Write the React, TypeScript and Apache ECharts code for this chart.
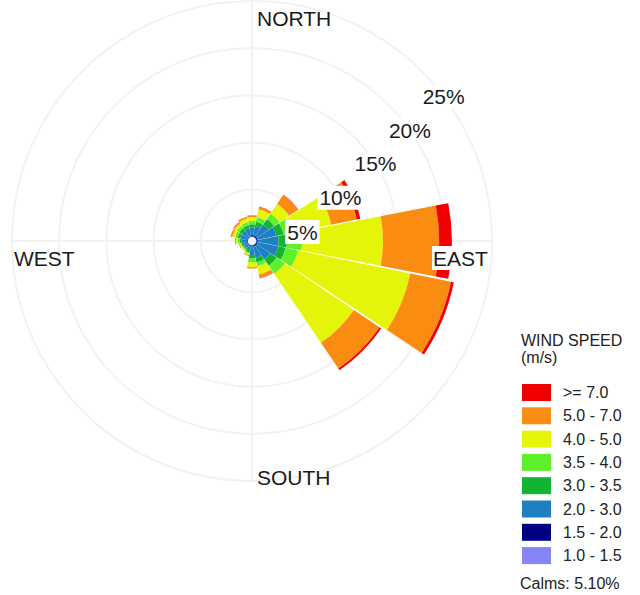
import React, { useEffect, useRef } from "react";
import * as echarts from "echarts";

const directions = ["N", "NNE", "NE", "ENE", "E", "ESE", "SE", "SSE", "S", "SSW", "SW", "WSW", "W", "WNW", "NW", "NNW"];

const speedBins = ["1.0 - 1.5", "1.5 - 2.0", "2.0 - 3.0", "3.0 - 3.5", "3.5 - 4.0", "4.0 - 5.0", "5.0 - 7.0", ">= 7.0"];
const binColors = ["#8585f5", "#000080", "#1e7fc2", "#12b432", "#5ef02a", "#e4f50a", "#fa8c12", "#f20000"];

// frequency (%) per direction, one array per speed bin
const bin10to15 = [0.05, 0.05, 0.05, 0.05, 0.05, 0.05, 0.05, 0.05, 0.05, 0.03, 0.03, 0.03, 0.03, 0.03, 0.03, 0.03];
const bin15to20 = [0.15, 0.15, 0.15, 0.15, 0.15, 0.15, 0.15, 0.15, 0.1, 0.07, 0.07, 0.07, 0.07, 0.07, 0.07, 0.07];
const bin20to30 = [0.8, 1.0, 1.5, 2.0, 2.2, 2.2, 1.7, 1.2, 0.9, 0.5, 0.4, 0.45, 0.6, 0.75, 0.8, 0.85];
const bin30to35 = [0.35, 0.45, 0.7, 0.8, 0.9, 0.8, 0.85, 0.5, 0.4, 0.2, 0.15, 0.15, 0.2, 0.28, 0.3, 0.32];
const bin35to40 = [0.35, 0.5, 0.7, 0.9, 1.6, 1.35, 1.05, 0.4, 0.4, 0.15, 0.1, 0.1, 0.2, 0.28, 0.3, 0.33];
const bin40to50 = [0.42, 0.85, 1.25, 4.25, 8.55, 12.15, 8.8, 0.9, 0.5, 0.15, 0.1, 0.12, 0.2, 0.3, 0.3, 0.4];
const bin50to70 = [0.16, 0.28, 1.1, 2.75, 5.95, 4.4, 3.3, 0.4, 0.13, 0.1, 0.05, 0.08, 0.1, 0.17, 0.18, 0.18];
const bin70plus = [0.02, 0.02, 0.05, 0.4, 1.35, 0.3, 0.2, 0.03, 0.02, 0, 0, 0, 0, 0.02, 0.02, 0.02];

const binValues = [bin10to15, bin15to20, bin20to30, bin30to35, bin35to40, bin40to50, bin50to70, bin70plus];

const ringTicks = [5, 10, 15, 20, 25];
const ringLabelAngles = [10, 26, 32, 35, 37];
const calms = "Calms: 5.10%";

const CX = 252;
const CY = 241;
const R0 = 4;
const R1 = 240;
const RMAX = 25;

export default function App() {
  const ref = useRef<HTMLDivElement>(null);
  useEffect(() => {
    if (!ref.current) return;
    const chart = echarts.init(ref.current, null, { renderer: "svg" });
    const font = "Liberation Sans, Arial, Helvetica, sans-serif";
    const series = speedBins.map((name, i) => ({
      type: "bar",
      name,
      coordinateSystem: "polar",
      stack: "wind",
      data: binValues[i],
      barCategoryGap: "3%",
      itemStyle: { color: binColors[i] },
      emphasis: { disabled: true },
    }));
    const pxPerUnit = (R1 - R0) / RMAX;
    const ringLabels = ringTicks.map((t, i) => {
      const r = R0 + t * pxPerUnit;
      const a = (ringLabelAngles[i] * Math.PI) / 180;
      return {
        type: "text",
        z: 100,
        x: CX + r * Math.cos(a),
        y: CY - r * Math.sin(a),
        style: {
          text: t + "%",
          font: "21px " + font,
          fill: "#1a1a1a",
          align: "center",
          verticalAlign: "middle",
          backgroundColor: "#ffffff",
          padding: [2, 2, 1, 2],
        },
      };
    });
    const dirText = (text: string, x: number, y: number, bg: boolean) => ({
      type: "text",
      z: 100,
      x,
      y,
      style: {
        text,
        font: "21px " + font,
        fill: "#1a1a1a",
        align: "left",
        verticalAlign: "middle",
        backgroundColor: bg ? "#ffffff" : undefined,
        padding: bg ? [2, 1, 1, 1] : 0,
      },
    });
    chart.setOption({
      animation: false,
      backgroundColor: "#ffffff",
      polar: { center: [CX, CY], radius: [R0, R1] },
      angleAxis: {
        type: "category",
        data: directions,
        startAngle: 90 + 360 / directions.length / 2,
        clockwise: true,
        axisLine: { show: false },
        axisTick: { show: false },
        axisLabel: { show: false },
        splitLine: { show: false },
      },
      radiusAxis: {
        type: "value",
        min: 0,
        max: RMAX,
        interval: 5,
        axisLine: { show: false },
        axisTick: { show: false },
        axisLabel: { show: false },
        splitLine: { show: true, lineStyle: { color: "#f2f2f2", width: 2 } },
      },
      legend: {
        orient: "vertical",
        left: 517,
        top: 379,
        itemWidth: 29,
        itemHeight: 17,
        itemGap: 6.3,
        icon: "rect",
        selectedMode: false,
        data: speedBins.slice().reverse(),
        textStyle: { fontSize: 16, color: "#222222", fontFamily: font, padding: [0, 0, 0, 7] },
      },
      graphic: [
        { type: "line", z: 0, shape: { x1: CX, y1: CY - R1, x2: CX, y2: CY + R1 }, style: { stroke: "#f2f2f2", lineWidth: 2 } },
        { type: "line", z: 0, shape: { x1: CX - R1, y1: CY, x2: CX + R1, y2: CY }, style: { stroke: "#f2f2f2", lineWidth: 2 } },
        dirText("NORTH", 257, 18, false),
        dirText("SOUTH", 257, 477, false),
        dirText("WEST", 14, 258, false),
        dirText("EAST", 432, 258, true),
        ...ringLabels,
        { type: "text", z: 100, x: 521, y: 340, style: { text: "WIND SPEED", font: "16px " + font, fill: "#222222", verticalAlign: "middle" } },
        { type: "text", z: 100, x: 521, y: 357, style: { text: "(m/s)", font: "16px " + font, fill: "#222222", verticalAlign: "middle" } },
        { type: "text", z: 100, x: 520, y: 583, style: { text: calms, font: "16px " + font, fill: "#222222", verticalAlign: "middle" } },
      ],
      series,
    } as any);
    return () => chart.dispose();
  }, []);
  return <div ref={ref} style={{ position: "fixed", left: 0, top: 0, width: 640, height: 595 }} />;
}
